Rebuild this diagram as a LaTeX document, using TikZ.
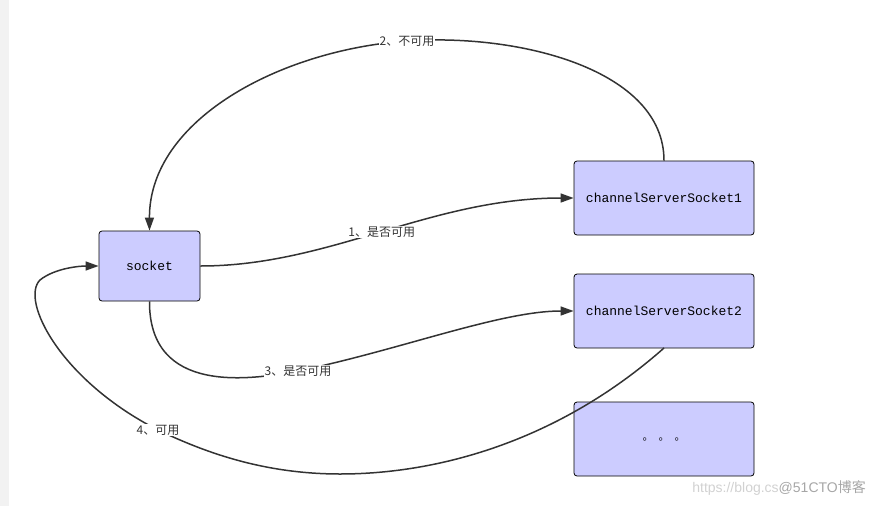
\documentclass[tikz,border=0pt]{standalone}
\usepackage{fontspec}
\setmainfont{Liberation Sans}
\newfontfamily\cjk{Noto Sans CJK SC}
\newfontfamily\monof{Liberation Mono}
\usetikzlibrary{arrows.meta}
\definecolor{boxfill}{HTML}{CCCCFF}
\definecolor{linec}{HTML}{333333}
\definecolor{barc}{HTML}{F2F2F2}
\tikzset{
  box/.style={draw=black, fill=boxfill, rounded corners=3pt, line width=0.8pt,
    minimum width=180pt, minimum height=74pt, inner sep=0pt, font=\monof\fontsize{13}{15}\selectfont},
  conn/.style={draw=linec, line width=1.5pt, -{Triangle[length=13pt,width=9pt]}},
  lbl/.style={fill=white, inner sep=1pt, text=linec, font=\cjk\fontsize{12}{14}\selectfont},
}
\begin{document}
\begin{tikzpicture}[x=1pt,y=-1pt]
\useasboundingbox (0,0) rectangle (875,506);
\fill[barc] (0,0) rectangle (9,506);

\node[box, minimum width=101pt, minimum height=70pt] (sock) at (149.5,266) {socket};
\node[box] (cs1) at (664,198) {channelServerSocket1};
\node[box] (cs2) at (664,311) {channelServerSocket2};
\node[box, font=\cjk\fontsize{11}{12}\selectfont] (dots) at (664,439) {。\hspace{5pt}。\hspace{5pt}。};

\coordinate (p2) at (407,41);
\coordinate (p3) at (298,371);
\coordinate (p4) at (158,430);
\coordinate (b4) at (340,474);
\coordinate (q4) at (40,280);

% 1
\draw[conn] (sock.east) .. controls (330,266) and (430,198) .. (cs1.west)
  node[lbl, pos=0.5] (l1) {1、是否可用};
% 2
\draw[conn] (cs1.north) .. controls (664,70) and (520,33) .. (p2)
  .. controls (280,50) and (149,120) .. (sock.north);
\node[lbl] (l2) at (p2) {2、不可用};
% 3
\draw[conn] (sock.south) .. controls (149,395) and (250,380) .. (p3)
  .. controls (400,350) and (500,311) .. (cs2.west);
\node[lbl] (l3) at (p3) {3、是否可用};
% 4
\draw[conn] (664,348) .. controls (560,440) and (440,474) .. (b4)
  .. controls (260,474) and (200,450) .. (p4)
  .. controls (60,380) and (20,300) .. (q4)
  .. controls (55,268) and (80,266) .. (sock.west);
\node[lbl] (l4) at (p4) {4、可用};

\node[anchor=east, inner sep=0pt, font=\fontsize{14}{16}\selectfont] (wm) at (866,488)
  {\textcolor{black!18}{https://blog.cs}\textcolor{black!35}{@51CTO{\cjk 博客}}};
\end{tikzpicture}
\end{document}
